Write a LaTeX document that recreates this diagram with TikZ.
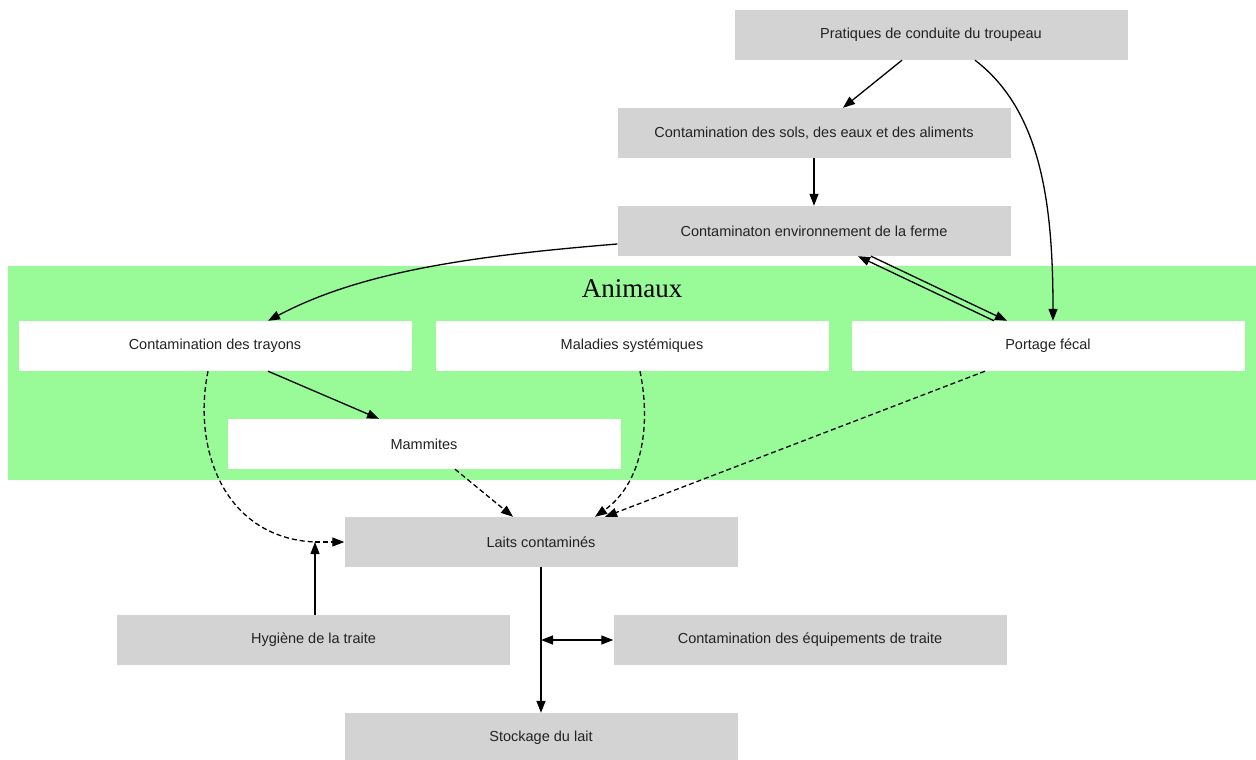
\documentclass[tikz,border=0pt]{standalone}
\usepackage{fontspec}
\setmainfont{Liberation Sans}
\newfontfamily\serifont{Liberation Serif}
\usetikzlibrary{arrows.meta}
\definecolor{boxgray}{HTML}{D3D3D3}
\definecolor{clustergreen}{HTML}{98FB98}
\definecolor{txt}{HTML}{222222}
\tikzset{
  box/.style={fill=boxgray, minimum width=393pt, minimum height=50pt, inner sep=0pt, text=txt, font=\fontsize{14.5}{16}\selectfont},
  wbox/.style={box, fill=white},
  gtip/.tip={Triangle[length=12pt,width=9pt]},
  edge/.style={line width=1.3pt, -gtip},
  dedge/.style={edge, dash pattern=on 5pt off 3pt},
}
\begin{document}
\begin{tikzpicture}[x=1pt,y=-1pt]
\useasboundingbox (0,0) rectangle (1256,760);
\fill[clustergreen] (8,266) rectangle (1256,480);
\node[font=\serifont\fontsize{27}{29}\selectfont] (an) at (632,289) {Animaux};

\node[box] (pr) at (931,35) {Pratiques de conduite du troupeau};
\node[box] (so) at (814,133) {Contamination des sols, des eaux et des aliments};
\node[box] (en) at (814,231) {Contaminaton environnement de la ferme};
\node[wbox] (tr) at (215,346) {Contamination des trayons};
\node[wbox] (mal) at (632,346) {Maladies systémiques};
\node[wbox] (po) at (1048,346) {Portage fécal};
\node[wbox] (ma) at (424,444) {Mammites};
\node[box] (la) at (541,542) {Laits contaminés};
\node[box] (hy) at (313.5,640) {Hygiène de la traite};
\node[box] (eq) at (810,640) {Contamination des équipements de traite};
\node[box] (st) at (541,738) {Stockage du lait};
\coordinate (j) at (315,542);
\coordinate (k) at (541,640);

\draw[edge] ([xshift=-29pt]pr.south) -- ([xshift=29pt]so.north);
\draw[edge] ([xshift=44pt]pr.south) .. controls (1040,110) and (1053,200) .. ([xshift=5pt]po.north);
\draw[edge] (so.south) -- (en.north);
\draw[edge] ([yshift=-13pt]en.west) .. controls (470,256) and (360,272) .. ([xshift=53pt]tr.north);
\draw[edge] ([xshift=57pt]en.south) -- ([xshift=-41pt]po.north);
\draw[edge] ([xshift=-54pt]po.north) -- ([xshift=44pt]en.south);
\draw[edge] ([xshift=53pt]tr.south) -- ([xshift=-45pt]ma.north);
\draw[dedge, -] ([xshift=-7pt]tr.south) .. controls (192,450) and (225,538) .. (j);
\draw[dedge] (j) -- (la.west);
\draw[edge] (hy.north -| j) -- (j);
\draw[dedge] ([xshift=31pt]ma.south) -- ([xshift=-28pt]la.north);
\draw[dedge] ([xshift=8pt]mal.south) .. controls (652,430) and (640,485) .. ([xshift=54pt]la.north);
\draw[dedge] ([xshift=-63pt]po.south) -- ([xshift=64pt]la.north);
\draw[edge] (la.south) -- (st.north);
\draw[edge, gtip-gtip] (k) -- (eq.west);
\end{tikzpicture}
\end{document}
